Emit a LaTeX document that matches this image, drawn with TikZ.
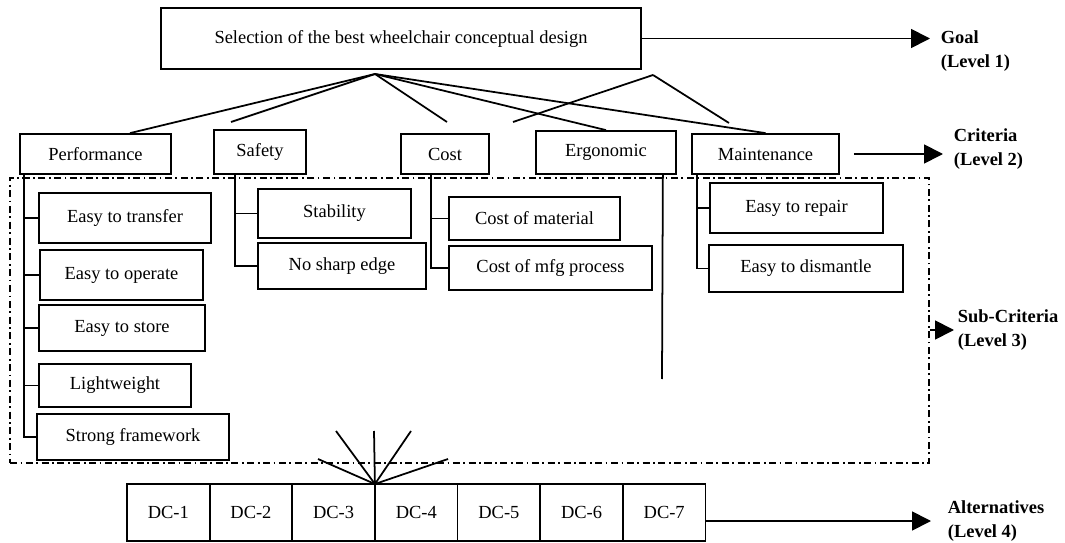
\documentclass[tikz,border=0pt]{standalone}
\usepackage{fontspec}
\setmainfont{Liberation Serif}
\usetikzlibrary{arrows.meta}

\begin{document}
\begin{tikzpicture}[cbox/.style 2 args={draw=black,rectangle,inner sep=2pt,minimum width=#1cm,minimum height=#2cm},
  lvl/.style={anchor=west,align=left,inner xsep=0.2cm,inner ysep=0pt,font=\fontsize{10.5}{13.6}\selectfont\bfseries},
  arr/.style={-{Triangle[length=0.38cm,width=0.38cm]}},
  dcbox/.style={draw=black,rectangle,outer sep=0pt,minimum width=1.653cm,minimum height=1.14cm},
  line width=1pt,font=\fontsize{10.5}{13.6}\selectfont]
  \useasboundingbox (0,0) rectangle (21.3,-10.86);
  \node[draw=black,line width=0.7pt,dash pattern=on 4pt off 2pt on 1pt off 2pt,minimum width=18.38cm,minimum height=5.7cm] (subbox) at (9.39,-6.41) {};
  \node[cbox={9.6}{1.22}] (goal) at (8.02,-0.77) {Selection of the best wheelchair conceptual design};
  \node[cbox={3.02}{0.8}] (perf) at (1.91,-3.08) {Performance};
  \node[cbox={1.84}{0.88}] (safe) at (5.20,-3.04) {Safety};
  \node[cbox={1.76}{0.8}] (cost) at (8.90,-3.08) {Cost};
  \node[cbox={2.8}{0.86}] (ergo) at (12.12,-3.05) {Ergonomic};
  \node[cbox={2.94}{0.8}] (maint) at (15.31,-3.08) {Maintenance};
  \node[cbox={3.44}{1.0}] (trans) at (2.50,-4.36) {Easy to transfer};
  \node[cbox={3.26}{1.0}] (oper) at (2.43,-5.50) {Easy to operate};
  \node[cbox={3.32}{0.92}] (store) at (2.44,-6.56) {Easy to store};
  \node[cbox={3.04}{0.86}] (light) at (2.30,-7.71) {Lightweight};
  \node[cbox={3.84}{0.92}] (frame) at (2.66,-8.74) {Strong framework};
  \node[cbox={3.06}{0.98}] (stab) at (6.69,-4.27) {Stability};
  \node[cbox={3.36}{0.92}] (edge) at (6.84,-5.32) {No sharp edge};
  \node[cbox={3.42}{0.86}] (mat) at (10.69,-4.37) {Cost of material};
  \node[cbox={4.06}{0.88}] (mfg) at (11.01,-5.36) {Cost of mfg process};
  \node[cbox={3.46}{1.0}] (repair) at (15.93,-4.16) {Easy to repair};
  \node[cbox={3.88}{0.94}] (dism) at (16.12,-5.37) {Easy to dismantle};
  \foreach \i in {1,...,7}
    \node[dcbox] (dc\i) at ({1.713+1.653*\i},-10.25) {DC-\i};
  \node[lvl] (goallbl) at (18.60,-1.02) {Goal\\(Level 1)};
  \node[lvl] (critlbl) at (18.86,-2.99) {Criteria\\(Level 2)};
  \node[lvl,inner xsep=0.06cm] (sublbl) at (19.08,-6.60) {Sub-Criteria\\(Level 3)};
  \node[lvl,inner xsep=0.32cm] (altlbl) at (18.62,-10.42) {Alternatives\\(Level 4)};
  \coordinate (apexA) at (7.50,-1.48);
  \coordinate (apexB) at (13.06,-1.50);
  \coordinate (endA) at (4.62,-2.44);
  \coordinate (endB) at (8.94,-2.44);
  \coordinate (endC) at (10.26,-2.44);
  \coordinate (endD) at (14.58,-2.46);
  \coordinate (ergoend) at (13.24,-7.58);
  \coordinate (fan1) at (6.72,-8.62);
  \coordinate (fan2) at (7.48,-8.62);
  \coordinate (fan3) at (8.22,-8.62);
  \coordinate (fan4) at (6.36,-9.18);
  \coordinate (fan5) at (8.96,-9.18);
  \begin{scope}[-]
    \draw (apexA) -- ([xshift=0.69cm]perf.north);
    \draw (apexA) -- (endA);
    \draw (apexA) -- (endB);
    \draw (apexA) -- (ergo.north);
    \draw (apexA) -- (maint.north);
    \draw (apexB) -- (endC);
    \draw (apexB) -- (endD);
    \draw ([xshift=0.1cm]perf.south west) |- (trans.west);
    \draw ([xshift=0.1cm]perf.south west) |- (oper.west);
    \draw ([xshift=0.1cm]perf.south west) |- (store.west);
    \draw ([xshift=0.1cm]perf.south west) |- (light.west);
    \draw ([xshift=0.1cm]perf.south west) |- (frame.west);
    \draw ([xshift=0.44cm]safe.south west) |- (stab.west);
    \draw ([xshift=0.44cm]safe.south west) |- (edge.west);
    \draw ([xshift=0.62cm]cost.south west) |- (mat.west);
    \draw ([xshift=0.62cm]cost.south west) |- (mfg.west);
    \draw ([xshift=-0.28cm]ergo.south east) -- (ergoend);
    \draw ([xshift=0.12cm]maint.south west) |- (repair.west);
    \draw ([xshift=0.12cm]maint.south west) |- (dism.west);
    \foreach \f in {fan1,fan2,fan3,fan4,fan5}
      \draw (dc3.north east) -- (\f);
  \end{scope}
  \draw[arr] (goal.east) -- (goal.east -| goallbl.west);
  \draw[arr] ([xshift=0.28cm]maint.east) -- (maint.east -| critlbl.west);
  \draw[arr] (subbox.east |- sublbl.west) -- (sublbl.west);
  \draw[arr] (dc7.east |- altlbl.west) -- (altlbl.west);
\end{tikzpicture}
\end{document}
